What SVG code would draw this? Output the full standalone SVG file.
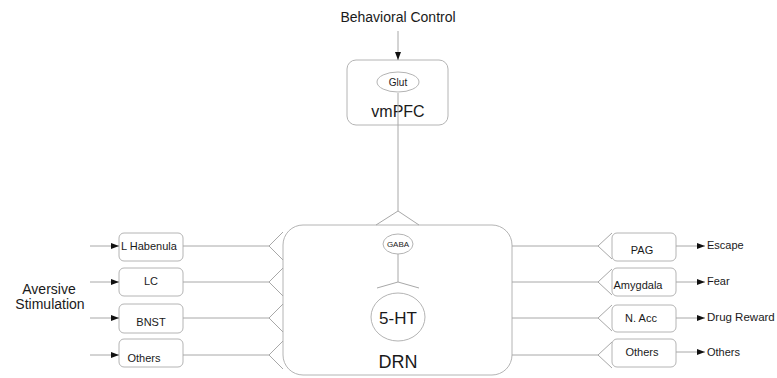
<svg xmlns="http://www.w3.org/2000/svg" width="777" height="378" viewBox="0 0 777 378">
<defs>
<style>
text{font-family:"Liberation Sans",Arial,sans-serif;fill:#1a1a1a}
.box{fill:#fff;stroke:#b4b4b4;stroke-width:1}
.ln{fill:none;stroke:#a8a8a8;stroke-width:1}
.s11{font-size:11px}
.mid{text-anchor:middle}
</style>
<marker id="ah" viewBox="0 0 8 6" refX="8" refY="3" markerWidth="8" markerHeight="6" markerUnits="userSpaceOnUse" orient="auto">
<path d="M0,0 L8,3 L0,6 Z" fill="#111"/>
</marker>
</defs>
<rect width="777" height="378" fill="#fff"/>

<text x="398" y="22" class="mid" font-size="14">Behavioral Control</text>

<g id="vmPFC">
<rect class="box" x="347" y="60" width="101" height="65" rx="9"/>
<ellipse class="box" cx="398" cy="82" rx="21" ry="10"/>
<text x="398" y="86" class="mid" font-size="10">Glut</text>
<text x="398" y="117" class="mid" font-size="16">vmPFC</text>
</g>

<g id="DRN">
<rect class="box" x="283" y="225" width="229" height="150" rx="20" fill="none"/>
<ellipse class="box" cx="398" cy="244" rx="15" ry="10"/>
<text x="398" y="247" class="mid" font-size="8">GABA</text>
<ellipse class="box" cx="398" cy="317" rx="27" ry="24"/>
<text x="398" y="324" class="mid" font-size="17">5-HT</text>
<text x="398" y="368" class="mid" font-size="18">DRN</text>
</g>

<text font-size="14" class="mid"><tspan x="49" y="294">Aversive</tspan><tspan x="50" y="309">Stimulation</tspan></text>

<g id="LHabenula">
<rect class="box" x="119" y="233" width="64" height="28" rx="5"/>
<text x="121" y="250" class="s11">L Habenula</text>
</g>
<g id="LC">
<rect class="box" x="119" y="268" width="64" height="28" rx="5"/>
<text x="151" y="285" class="s11 mid">LC</text>
</g>
<g id="BNST">
<rect class="box" x="119" y="304" width="64" height="29" rx="5"/>
<text x="151" y="326" class="s11 mid">BNST</text>
</g>
<g id="OthersIn">
<rect class="box" x="119" y="339" width="64" height="28" rx="5"/>
<text x="144" y="362" class="s11 mid">Others</text>
</g>

<g id="PAG">
<rect class="box" x="612" y="233" width="64" height="28" rx="5"/>
<text x="642" y="254" class="s11 mid">PAG</text>
</g>
<g id="Amygdala">
<rect class="box" x="612" y="268" width="64" height="28" rx="5"/>
<text x="638" y="289" class="s11 mid">Amygdala</text>
</g>
<g id="NAcc">
<rect class="box" x="612" y="305" width="64" height="27" rx="5"/>
<text x="641" y="322" class="s11 mid">N. Acc</text>
</g>
<g id="OthersOut">
<rect class="box" x="612" y="339" width="64" height="28" rx="5"/>
<text x="642" y="356" class="s11 mid">Others</text>
</g>

<text x="707" y="249" class="s11">Escape</text>
<text x="707" y="285" class="s11">Fear</text>
<text x="707" y="321" font-size="11.5">Drug Reward</text>
<text x="707" y="356" class="s11">Others</text>

<g id="connectors">
<line class="ln" x1="398" y1="31" x2="398" y2="60" marker-end="url(#ah)"/>
<line class="ln" x1="398" y1="93" x2="398" y2="211"/>
<path class="ln" d="M376,225 L398,211 L419,225"/>
<line class="ln" x1="398" y1="254" x2="398" y2="282"/>
<path class="ln" d="M377,288 L398,282 L419,288"/>
<line class="ln" x1="90" y1="246" x2="119" y2="246" marker-end="url(#ah)"/>
<line class="ln" x1="90" y1="282" x2="119" y2="282" marker-end="url(#ah)"/>
<line class="ln" x1="90" y1="318" x2="119" y2="318" marker-end="url(#ah)"/>
<line class="ln" x1="90" y1="355" x2="119" y2="355" marker-end="url(#ah)"/>
<line class="ln" x1="183" y1="246" x2="269" y2="246"/>
<line class="ln" x1="183" y1="282" x2="269" y2="282"/>
<line class="ln" x1="183" y1="318" x2="269" y2="318"/>
<line class="ln" x1="183" y1="355" x2="269" y2="355"/>
<path class="ln" d="M283,232 L269,246 L283,260"/>
<path class="ln" d="M283,268 L269,282 L283,296"/>
<path class="ln" d="M283,304 L269,318 L283,332"/>
<path class="ln" d="M283,341 L269,355 L283,369"/>
<line class="ln" x1="512" y1="246" x2="598" y2="246"/>
<line class="ln" x1="512" y1="282" x2="598" y2="282"/>
<line class="ln" x1="512" y1="318" x2="598" y2="318"/>
<line class="ln" x1="512" y1="355" x2="598" y2="355"/>
<path class="ln" d="M612,233 L598,246 L612,259"/>
<path class="ln" d="M612,269 L598,282 L612,295"/>
<path class="ln" d="M612,305 L598,318 L612,331"/>
<path class="ln" d="M612,342 L598,355 L612,368"/>
<line class="ln" x1="676" y1="246" x2="705" y2="246" marker-end="url(#ah)"/>
<line class="ln" x1="676" y1="282" x2="705" y2="282" marker-end="url(#ah)"/>
<line class="ln" x1="676" y1="318" x2="705" y2="318" marker-end="url(#ah)"/>
<line class="ln" x1="676" y1="352" x2="705" y2="352" marker-end="url(#ah)"/>
</g>
</svg>
